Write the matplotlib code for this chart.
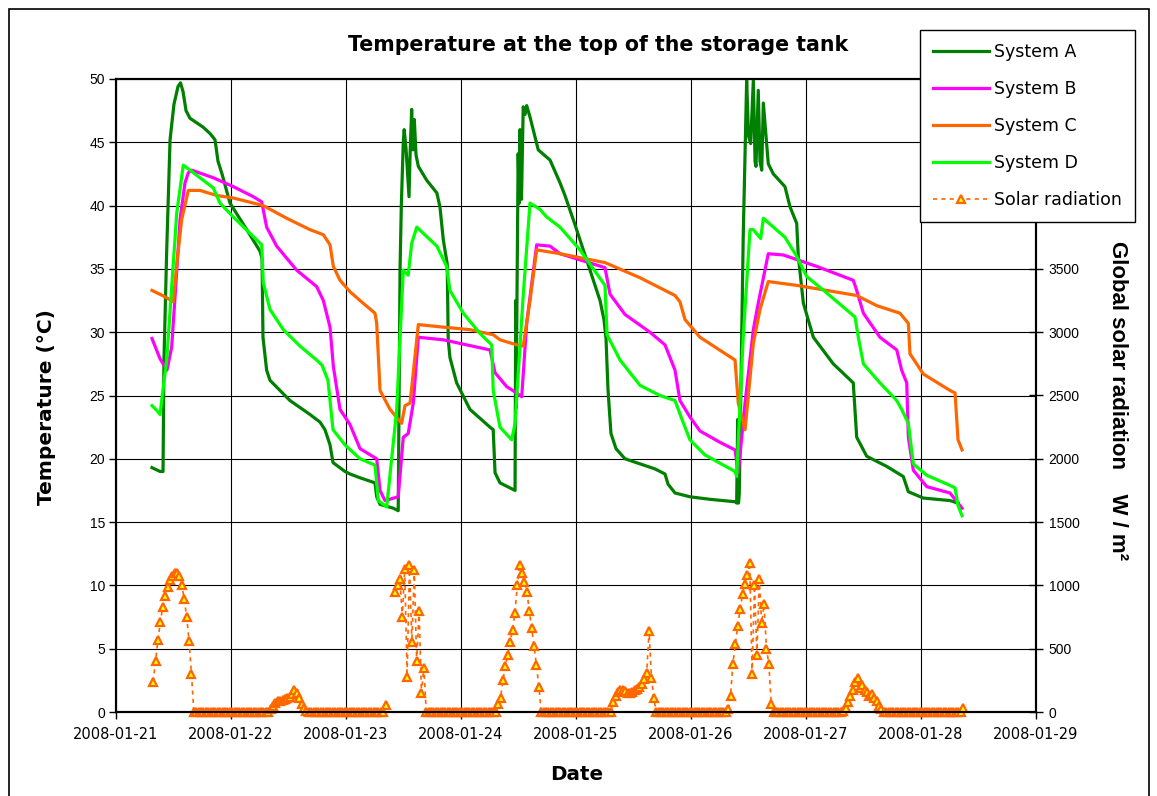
import numpy as np
import pandas as pd
import matplotlib
matplotlib.use('Agg')
import matplotlib.pyplot as plt
import matplotlib.dates as mdates
from matplotlib.patches import Rectangle

nan = np.nan

# time in days after 2008-01-21 00:00, temperature in degC
sys_a_day = [0.313, 0.383, 0.409, 0.417, 0.441, 0.470, 0.504, 0.539, 0.561, 0.583,
             0.609, 0.643, 0.757, 0.817, 0.861, 0.887, 0.922, 0.991, 1.137, 1.252,
             1.270, 1.278, 1.310, 1.339, 1.513, 1.687, 1.774, 1.817, 1.861, 1.887,
             1.991, 2.035, 2.122, 2.252, 2.267, 2.296, 2.411, 2.454, 2.470, 2.481,
             2.498, 2.506, 2.522, 2.548, 2.557, 2.571, 2.583, 2.594, 2.609, 2.629,
             2.702, 2.790, 2.817, 2.846, 2.880, 2.889, 2.904, 2.962, 3.078, 3.252,
             3.280, 3.296, 3.339, 3.470, 3.476, 3.479, 3.497, 3.507, 3.513, 3.526,
             3.541, 3.557, 3.571, 3.600, 3.672, 3.774, 3.861, 3.904, 3.991, 4.122,
             4.209, 4.243, 4.261, 4.278, 4.304, 4.348, 4.426, 4.557, 4.687, 4.774,
             4.800, 4.861, 4.991, 5.165, 5.391, 5.397, 5.406, 5.413, 5.420, 5.454,
             5.484, 5.500, 5.519, 5.542, 5.557, 5.565, 5.585, 5.600, 5.615, 5.629,
             5.672, 5.716, 5.817, 5.861, 5.919, 5.933, 5.977, 6.064, 6.237, 6.411,
             6.441, 6.528, 6.702, 6.846, 6.890, 7.020, 7.252, 7.322]
sys_a = [19.3, 19.0, 19.0, 27.8, 36.5, 45.2, 48.0, 49.4, 49.7, 49.0,
         47.5, 46.9, 46.2, 45.7, 45.2, 43.5, 42.5, 40.2, 38.1, 36.4,
         35.8, 29.6, 27.0, 26.2, 24.6, 23.5, 22.9, 22.3, 21.1, 19.7,
         19.0, 18.8, 18.5, 18.1, 17.0, 16.4, 16.1, 15.9, 35.0, 40.0,
         45.0, 46.0, 44.5, 40.7, 44.0, 47.6, 44.4, 46.8, 44.0, 43.1,
         42.0, 41.0, 39.9, 37.3, 35.4, 29.4, 28.0, 26.0, 23.9, 22.5,
         22.3, 18.9, 18.1, 17.5, 32.5, 24.0, 44.1, 40.2, 46.0, 40.5,
         47.8, 47.2, 47.9, 47.0, 44.4, 43.6, 41.8, 40.8, 38.5, 34.9,
         32.5, 31.0, 29.5, 25.5, 22.0, 20.8, 20.0, 19.6, 19.2, 18.8,
         18.0, 17.3, 17.0, 16.8, 16.6, 16.5, 23.1, 16.5, 17.3, 37.5,
         49.9, 45.5, 44.9, 49.9, 43.5, 43.1, 49.1, 43.5, 42.8, 48.1,
         43.3, 42.5, 41.5, 39.9, 38.6, 36.0, 32.3, 29.6, 27.5, 26.0,
         21.7, 20.2, 19.4, 18.6, 17.4, 16.9, 16.7, 16.5]

sys_b_day = [0.313, 0.383, 0.443, 0.484, 0.522, 0.557, 0.600, 0.629, 0.658, 0.846,
             1.020, 1.194, 1.267, 1.310, 1.397, 1.571, 1.745, 1.803, 1.861, 1.890,
             1.948, 2.035, 2.122, 2.267, 2.296, 2.339, 2.454, 2.498, 2.541, 2.585,
             2.629, 2.846, 3.252, 3.296, 3.397, 3.484, 3.528, 3.571, 3.658, 3.774,
             3.861, 4.252, 4.296, 4.426, 4.643, 4.774, 4.861, 4.904, 4.991, 5.078,
             5.252, 5.383, 5.411, 5.470, 5.542, 5.585, 5.672, 5.803, 6.093, 6.411,
             6.441, 6.499, 6.643, 6.789, 6.832, 6.876, 6.890, 6.933, 7.050, 7.252,
             7.357]
sys_b = [29.5, 27.9, 27.0, 28.8, 34.0, 38.9, 41.8, 42.6, 42.8, 42.2,
         41.5, 40.7, 40.3, 38.3, 36.8, 34.9, 33.6, 32.5, 30.4, 27.3,
         23.9, 22.7, 20.8, 20.0, 17.5, 16.7, 17.0, 21.7, 22.0, 24.4,
         29.6, 29.4, 28.6, 26.8, 25.7, 25.2, 24.9, 30.7, 36.9, 36.8,
         36.2, 35.1, 33.0, 31.4, 30.0, 29.0, 27.0, 24.6, 23.3, 22.2,
         21.3, 20.7, 18.9, 24.4, 30.2, 32.3, 36.2, 36.1, 35.2, 34.1,
         33.3, 31.5, 29.6, 28.6, 27.0, 26.0, 21.7, 19.1, 17.8, 17.3,
         16.1]

sys_c_day = [0.313, 0.426, 0.498, 0.530, 0.571, 0.629, 0.730, 0.876, 1.020, 1.281,
             1.484, 1.687, 1.803, 1.861, 1.890, 1.948, 2.035, 2.122, 2.252, 2.267,
             2.296, 2.383, 2.484, 2.513, 2.557, 2.629, 2.846, 3.078, 3.280, 3.339,
             3.484, 3.541, 3.600, 3.658, 3.861, 4.252, 4.557, 4.861, 4.904, 4.948,
             5.078, 5.383, 5.411, 5.470, 5.542, 5.600, 5.672, 5.919, 6.441, 6.615,
             6.817, 6.890, 6.904, 7.020, 7.252, 7.296, 7.322, 7.357]
sys_c = [33.3, 32.8, 32.4, 35.5, 38.9, 41.2, 41.2, 40.8, 40.6, 40.0,
         39.0, 38.1, 37.7, 36.9, 35.2, 34.1, 33.2, 32.5, 31.5, 30.7,
         25.4, 23.9, 22.8, 24.2, 24.4, 30.6, 30.4, 30.2, 29.8, 29.4,
         29.0, 28.9, 32.5, 36.5, 36.2, 35.5, 34.3, 32.9, 32.4, 31.0,
         29.6, 27.8, 24.4, 22.3, 29.1, 31.8, 34.0, 33.7, 32.9, 32.1,
         31.5, 30.7, 28.3, 26.7, 25.4, 25.2, 21.5, 20.7]

sys_d_day = [0.313, 0.357, 0.383, 0.409, 0.441, 0.528, 0.585, 0.643, 0.846, 0.904,
             1.020, 1.223, 1.267, 1.281, 1.339, 1.455, 1.600, 1.745, 1.791, 1.843,
             1.887, 1.991, 2.122, 2.252, 2.281, 2.354, 2.441, 2.498, 2.541, 2.571,
             2.615, 2.790, 2.875, 2.904, 3.020, 3.165, 3.267, 3.280, 3.339, 3.441,
             3.470, 3.541, 3.600, 3.687, 3.745, 3.861, 4.035, 4.252, 4.270, 4.383,
             4.557, 4.730, 4.861, 4.922, 4.991, 5.122, 5.383, 5.397, 5.454, 5.513,
             5.542, 5.606, 5.629, 5.817, 5.919, 6.006, 6.180, 6.426, 6.455, 6.499,
             6.643, 6.789, 6.832, 6.890, 6.933, 7.050, 7.252, 7.296, 7.322, 7.357]
sys_d = [24.2, 23.8, 23.5, 25.5, 27.8, 39.4, 43.2, 42.8, 41.4, 40.2,
         39.1, 37.3, 36.9, 33.9, 31.8, 30.2, 28.9, 27.8, 27.4, 26.2,
         22.3, 21.1, 20.0, 19.5, 16.7, 16.2, 23.9, 34.9, 34.5, 37.0,
         38.3, 36.8, 35.2, 33.3, 31.5, 29.9, 29.0, 25.4, 22.5, 21.5,
         22.8, 32.9, 40.2, 39.7, 39.1, 38.3, 36.5, 33.7, 29.8, 27.8,
         25.8, 25.0, 24.6, 23.1, 21.5, 20.3, 19.0, 18.6, 29.6, 38.1,
         38.1, 37.4, 39.0, 37.5, 36.0, 34.4, 33.1, 31.2, 29.6, 27.5,
         26.0, 24.6, 23.9, 22.8, 19.6, 18.7, 17.9, 17.7, 16.3, 15.5]

# global solar radiation W/m2, one reading every 30 min (hh:15 and hh:45)
solar_jan21 = [240, 400, 570, 710, 830, 920, 985, 1040, 1075, 1095, 1100, 1075, 1000, 890, 750, 560, 300, 0,
               0, 0, 0, 0, 0, 0, 0, 0, 0, 0, 0, 0, 0, 0, 0]
solar_jan22 = [0, 0, 0, 0, 0, 0, 0, 0, 0, 0, 0, 0, 0, 0, 0,
               0, 20, 45, 70, 85, 90, 95, 100, 110, 120, 140, 175, 150, 110, 65, 35, 10, 0,
               0, 0, 0, 0, 0, 0, 0, 0, 0, 0, 0, 0, 0, 0, 0]
solar_jan23 = [0, 0, 0, 0, 0, 0, 0, 0, 0, 0, 0, 0, 0, 0, 0,
               0, 55, nan, nan, nan, 950, 1000, 1050, 750, 1130, 280, 1160, 550, 1120, 400, 800, 150, 350, 0,
               0, 0, 0, 0, 0, 0, 0, 0, 0, 0, 0, 0, 0, 0]
solar_jan24 = [0, 0, 0, 0, 0, 0, 0, 0, 0, 0, 0, 0, 0, 0, 0,
               60, 110, 250, 360, 450, 550, 650, 780, 1000, 1160, 1100, 1030, 950, 800, 660, 520, 370, 200, 0,
               0, 0, 0, 0, 0, 0, 0, 0, 0, 0, 0, 0, 0, 0]
solar_jan25 = [0, 0, 0, 0, 0, 0, 0, 0, 0, 0, 0, 0, 0, 0, 0,
               80, 130, 160, 170, 175, 165, 150, 148, 160, 175, 185, 200, 225, 260, 310, 640, 270, 110, 0,
               0, 0, 0, 0, 0, 0, 0, 0, 0, 0, 0, 0, 0, 0]
solar_jan26 = [0, 0, 0, 0, 0, 0, 0, 0, 0, 0, 0, 0, 0, 0, 0,
               20, 130, 380, 540, 680, 810, 930, 1010, 1080, 1180, 300, 1000, 450, 1050, 700, 850, 500, 380, 60, 0,
               0, 0, 0, 0, 0, 0, 0, 0, 0, 0, 0, 0, 0]
solar_jan27 = [0, 0, 0, 0, 0, 0, 0, 0, 0, 0, 0, 0, 0, 0, 0,
               10, 35, 80, 130, 175, 240, 270, 190, 210, 170, 160, 130, 140, 110, 90, 50, 20, 0,
               0, 0, 0, 0, 0, 0, 0, 0, 0, 0, 0, 0, 0, 0, 0]
solar_jan28 = [0, 0, 0, 0, 0, 0, 0, 0, 0, 0, 0, 0, 0, 0, 0, 0, 0, 30]

labels = ['System A', 'System B', 'System C', 'System D', 'Solar radiation']
colors = ['#008000', '#FF00FF', '#FF6600', '#00FF00']

solar = (solar_jan21 + solar_jan22 + solar_jan23 + solar_jan24 + solar_jan25
         + solar_jan26 + solar_jan27 + solar_jan28)
solar_time = pd.date_range('2008-01-21 07:45', periods=len(solar), freq='30min')

base = mdates.date2num(pd.Timestamp('2008-01-21'))

W, H = 1157, 796
fig = plt.figure(figsize=(W / 100, H / 100), dpi=100)
ax = fig.add_axes([116 / W, 1 - 712 / H, 920 / W, 633 / H])
ax2 = ax.twinx()

series = [(sys_a_day, sys_a), (sys_b_day, sys_b), (sys_c_day, sys_c), (sys_d_day, sys_d)]
handles = []
for (days, vals), col, lab in zip(series, colors, labels):
    ln, = ax.plot(base + np.array(days), vals, color=col, lw=2.3, label=lab,
                  solid_joinstyle='round', zorder=3)
    handles.append(ln)

sl, = ax2.plot(mdates.date2num(solar_time), solar, color='#FF6600', lw=1.2,
               ls=(0, (2.5, 2.5)), marker='^', ms=6, mfc='#FFFF00', mec='#FF6600',
               mew=1.6, label=labels[4], clip_on=False)
handles.append(sl)

ax.set_xlim(base, base + 8)
ax.set_ylim(0, 50)
ax.set_yticks(range(0, 51, 5))
ax2.set_ylim(0, 5000)
# 4000-5000 sit behind the legend box
ax2.set_yticks(range(0, 3501, 500))

ax.xaxis.set_major_locator(mdates.DayLocator())
ax.xaxis.set_major_formatter(mdates.DateFormatter('%Y-%m-%d'))

ax.grid(True, color='black', lw=0.8)
ax.set_axisbelow(True)
for a in (ax, ax2):
    for s in a.spines.values():
        s.set_linewidth(1.5)
        s.set_color('black')

ax.tick_params(axis='x', direction='out', length=5, width=1, pad=6, labelsize=10.5)
ax.tick_params(axis='y', direction='out', length=5, width=1, pad=3, labelsize=10)
ax2.tick_params(axis='y', direction='inout', length=10, width=1, pad=4, labelsize=10)
for t in ax.get_yticklabels() + ax2.get_yticklabels():
    t.set_fontfamily('Liberation Sans')
for t in ax.get_xticklabels():
    t.set_fontfamily('DejaVu Sans')

fig.text(598 / W, 1 - 45 / H, 'Temperature at the top of the storage tank',
         ha='center', va='center', fontsize=14.8, fontweight='bold')
fig.text(47 / W, 1 - 407 / H, 'Temperature (°C)', ha='center', va='center',
         rotation=90, fontsize=14.5, fontweight='bold')
fig.text(1118 / W, 1 - 401 / H, 'Global solar radiation    W / m²', ha='center', va='center',
         rotation=-90, fontsize=16, fontweight='bold', family='Liberation Sans')
fig.text(577 / W, 1 - 775 / H, 'Date', ha='center', va='center',
         fontsize=14.3, fontweight='bold')

leg = fig.legend(handles=handles, labels=labels, loc='upper left',
                 bbox_to_anchor=(920 / W, 1 - 30 / H), bbox_transform=fig.transFigure,
                 fontsize=12.5, frameon=True, fancybox=False, edgecolor='black',
                 framealpha=1, handlelength=3.2, handletextpad=0.3,
                 labelspacing=1.09, borderpad=0.75, borderaxespad=0)
leg.get_frame().set_linewidth(1.0)

fig.patches.append(Rectangle((9 / W, -0.05), 1140 / W, 1.05 - 9 / H,
                             transform=fig.transFigure, fill=False,
                             edgecolor='black', lw=1.2))

fig.savefig('out.png', dpi=100)
